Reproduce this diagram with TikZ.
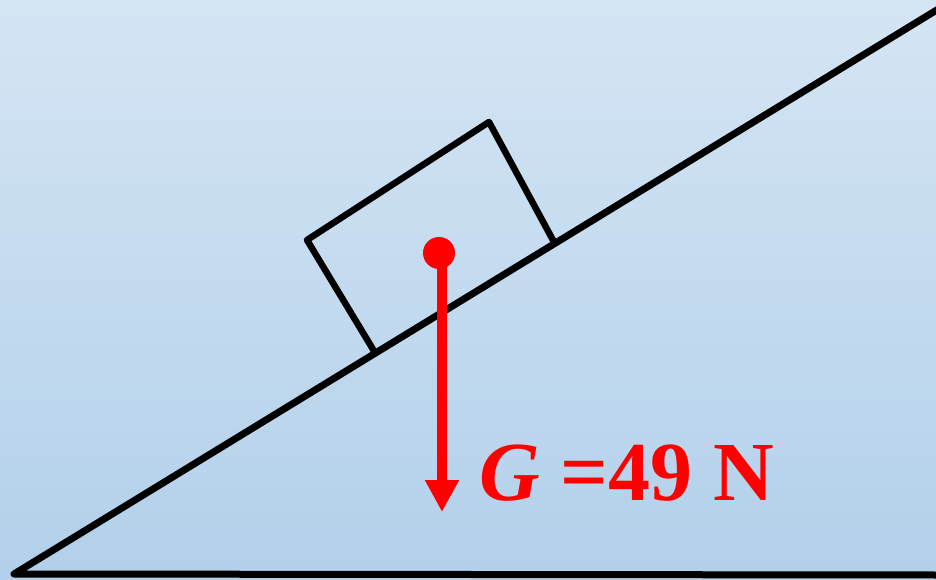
\documentclass[tikz,border=0pt]{standalone}
\usepackage{fontspec}
\setmainfont{Liberation Serif}
\usetikzlibrary{arrows.meta}
\definecolor{bgtop}{HTML}{D5E5F4}
\definecolor{bgbot}{HTML}{B2D0EA}
\definecolor{forcered}{HTML}{FF0000}
\tikzset{
  blackline/.style={draw=black, line width=7pt, line join=round, line cap=round},
  boxline/.style={draw=black, line width=6.5pt, line join=round, line cap=round},
  force/.style={draw=forcered, line width=10pt, -{Triangle[length=32pt,width=32pt]}},
}
\begin{document}
\begin{tikzpicture}[x=1pt,y=-1pt]
\useasboundingbox (0,0) rectangle (936,580);
\fill[top color=bgtop, bottom color=bgbot] (0,0) rectangle (936,580);
% incline and ground
\coordinate (v) at (14,574);
\coordinate (top) at (940,8);
\coordinate (gr) at (940,575);
\draw[blackline] (top) -- (v) -- (gr);
% block
\coordinate (b1) at (374,351);
\coordinate (b2) at (307,240);
\coordinate (b3) at (489,122);
\coordinate (b4) at (554,242);
\draw[boxline] (b1) -- (b2) -- (b3) -- (b4);
% force
\node[circle, fill=forcered, inner sep=0pt, minimum size=32pt] (dot) at (439,253) {};
\coordinate (s) at (442,253);
\coordinate (tip) at (442,512);
\draw[force] (s) -- (tip);
\node[anchor=base west, inner sep=0pt, text=forcered, font=\bfseries\fontsize{84}{88}\selectfont] (lbl) at (479,500) {\textit{G} =49 N};
\end{tikzpicture}
\end{document}
